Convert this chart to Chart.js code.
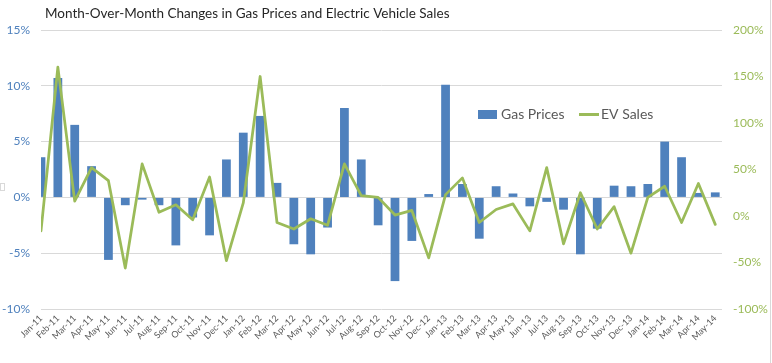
<!DOCTYPE html>
<html>
<head>
<meta charset="utf-8">
<script src="https://cdn.jsdelivr.net/npm/chart.js@4.4.1/dist/chart.umd.min.js"></script>
<style>
  html, body { margin: 0; padding: 0; background: #ffffff; }
  #wrap { position: relative; width: 772px; height: 363px; }
</style>
</head>
<body>
<div id="wrap"><canvas id="c"></canvas></div>
<script>
const titleText = 'Month-Over-Month Changes in Gas Prices and Electric Vehicle Sales';
const months = ['Jan-11','Feb-11','Mar-11','Apr-11','May-11','Jun-11','Jul-11','Aug-11','Sep-11','Oct-11','Nov-11','Dec-11',
  'Jan-12','Feb-12','Mar-12','Apr-12','May-12','Jun-12','Jul-12','Aug-12','Sep-12','Oct-12','Nov-12','Dec-12',
  'Jan-13','Feb-13','Mar-13','Apr-13','May-13','Jun-13','Jul-13','Aug-13','Sep-13','Oct-13','Nov-13','Dec-13',
  'Jan-14','Feb-14','Mar-14','Apr-14','May-14'];
const gasPrices = [3.6,10.7,6.5,2.8,-5.6,-0.7,-0.2,-0.7,-4.3,-1.8,-3.4,3.4,
  5.8,7.3,1.3,-4.2,-5.1,-2.7,8.0,3.4,-2.5,-7.5,-3.9,0.3,
  10.1,1.2,-3.7,1.0,0.35,-0.8,-0.4,-1.1,-5.1,-2.8,1.05,1.0,
  1.2,5.0,3.6,0.4,0.45];
const evSales = [-16,160,16,52,38,-56,56,4,12,-4,42,-48,
  14,150,-7,-14,-3,-10,56,22,20,1,6,-45,
  23,41,-7,7,13,-16,52,-30,25,-14,10,-40,
  20,32,-7,35,-9];
const leftTicks = { min: -10, max: 15, step: 5 };
const rightTicks = { min: -100, max: 200, step: 50 };
const seriesNames = ['Gas Prices', 'EV Sales'];

const BLUE = '#4F81BD', GREEN = '#9BBB59';
const FONT = 'Lato, "Open Sans", sans-serif';

const overlay = {
  id: 'overlay',
  afterDraw(chart) {
    const ctx = chart.ctx;
    ctx.save();
    // title
    ctx.font = '13.5px ' + FONT;
    ctx.fillStyle = '#262626';
    ctx.textBaseline = 'middle';
    ctx.textAlign = 'left';
    ctx.fillText(titleText, 45, 14);
    // legend
    ctx.font = '14px ' + FONT;
    ctx.fillStyle = BLUE;
    ctx.fillRect(478, 110, 19, 9);
    ctx.fillStyle = '#595959';
    ctx.fillText(seriesNames[0], 501, 114.5);
    ctx.strokeStyle = GREEN;
    ctx.lineWidth = 3;
    ctx.beginPath(); ctx.moveTo(579, 114.5); ctx.lineTo(599, 114.5); ctx.stroke();
    ctx.fillText(seriesNames[1], 601, 114.5);
    // frame artifacts
    ctx.strokeStyle = '#D9D9D9';
    ctx.lineWidth = 1;
    ctx.beginPath(); ctx.moveTo(770.5, 0); ctx.lineTo(770.5, 363); ctx.stroke();
    ctx.strokeRect(0.5, 183.5, 4, 7);
    ctx.restore();
  }
};

new Chart(document.getElementById('c'), {
  type: 'bar',
  data: {
    datasets: [
      {
        type: 'line',
        label: seriesNames[1],
        data: evSales.map((v, i) => ({ x: i, y: v })),
        yAxisID: 'y2',
        borderColor: GREEN,
        backgroundColor: GREEN,
        borderWidth: 2.75,
        borderJoinStyle: 'round',
        borderCapStyle: 'round',
        pointRadius: 0,
        tension: 0,
        order: 0
      },
      {
        type: 'bar',
        label: seriesNames[0],
        data: gasPrices.map((v, i) => ({ x: i, y: v })),
        yAxisID: 'y',
        backgroundColor: BLUE,
        categoryPercentage: 1,
        barPercentage: 0.52,
        order: 1
      }
    ]
  },
  options: {
    responsive: true,
    maintainAspectRatio: false,
    animation: false,
    layout: { padding: { top: 30, left: 0, right: 0, bottom: 0 } },
    plugins: { legend: { display: false }, title: { display: false }, tooltip: { enabled: false } },
    scales: {
      x: {
        type: 'linear',
        min: 0,
        max: 40.4,
        offset: false,
        grid: { display: false, drawTicks: false },
        border: { display: false },
        afterFit(s) { s.height = 54; },
        ticks: {
          stepSize: 1,
          autoSkip: false,
          includeBounds: false,
          minRotation: 45,
          maxRotation: 45,
          padding: 4,
          color: '#595959',
          font: { family: FONT, size: 9 },
          callback: (v) => Number.isInteger(v) && months[v] ? months[v] : ''
        }
      },
      y: {
        position: 'left',
        min: leftTicks.min,
        max: leftTicks.max,
        grid: { color: '#D9D9D9', drawTicks: false, lineWidth: 1 },
        border: { display: false },
        afterFit(s) { s.width = 41; },
        ticks: {
          stepSize: leftTicks.step,
          padding: 11,
          color: BLUE,
          font: { family: FONT, size: 12 },
          callback: (v) => v + '%'
        }
      },
      y2: {
        position: 'right',
        min: rightTicks.min,
        max: rightTicks.max,
        grid: { display: false, drawTicks: false },
        border: { display: false },
        afterFit(s) { s.width = 50; },
        ticks: {
          stepSize: rightTicks.step,
          padding: 11,
          color: GREEN,
          font: { family: FONT, size: 12 },
          callback: (v) => v + '%'
        }
      }
    }
  },
  plugins: [overlay]
});
</script>
</body>
</html>
